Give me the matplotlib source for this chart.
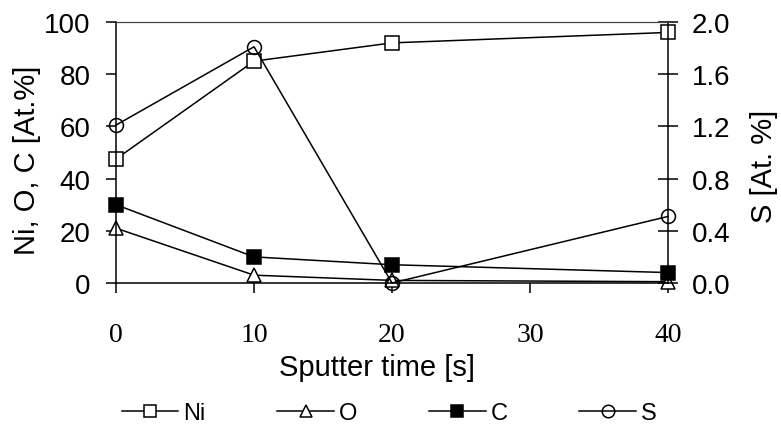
import matplotlib
matplotlib.use('Agg')
import matplotlib.pyplot as plt
from matplotlib.ticker import FormatStrFormatter

plt.rcParams['font.family'] = ['Liberation Sans', 'DejaVu Sans']

# 溅射时间 (s) 与各元素原子百分比
sputter_time = [0, 10, 20, 40]
ni = [47.5, 85, 92, 96]
o = [21, 3, 1, 0.5]
c = [30, 10, 7, 4]
s = [1.21, 1.81, 0.0, 0.51]

x_ticks = [0, 10, 20, 30, 40]
left_ticks = [0, 20, 40, 60, 80, 100]
right_ticks = [0.0, 0.4, 0.8, 1.2, 1.6, 2.0]

fig = plt.figure(figsize=(7.81, 4.27), dpi=100)
ax = fig.add_axes([116 / 781, 1 - 284 / 427, 552 / 781, 261 / 427])
ax2 = ax.twinx()

style = dict(color='black', lw=1.1, ms=10, mew=1.1)
h_ni, = ax.plot(sputter_time, ni, marker='s', mfc='white', label='Ni', **style)
h_o, = ax.plot(sputter_time, o, marker='^', mfc='white', label='O', **style)
h_c, = ax.plot(sputter_time, c, marker='s', mfc='black', label='C', **style)
h_s, = ax2.plot(sputter_time, s, marker='o', mfc='none', label='S', **style)
for h in (h_ni, h_o, h_c, h_s):
    h.set_clip_on(False)

ax.set_xlim(0, 40)
ax.set_ylim(0, 100)
ax2.set_ylim(0, 2.0)

ax.set_xticks(x_ticks)
ax.set_yticks(left_ticks)
ax2.set_yticks(right_ticks)
ax2.yaxis.set_major_formatter(FormatStrFormatter('%.1f'))

ax.tick_params(axis='x', direction='out', length=7.2, width=1.1, pad=21,
               labelsize=20)
for lbl in ax.get_xticklabels():
    lbl.set_family('Liberation Serif')
ax.tick_params(axis='y', direction='out', length=7.2, width=1.1, pad=11,
               labelsize=20)
ax2.tick_params(axis='y', direction='inout', length=14.4, width=1.1, pad=10,
                labelsize=20)

for a in (ax, ax2):
    a.spines['top'].set_linewidth(0.8)
    a.spines['top'].set_color('#444444')
    a.spines['left'].set_linewidth(1.1)
    a.spines['bottom'].set_linewidth(1.1)
    a.spines['right'].set_linewidth(1.1)
ax.spines['right'].set_visible(False)
ax2.spines['left'].set_visible(False)
ax2.spines['bottom'].set_visible(False)

ax.set_xlabel('Sputter time [s]', fontsize=21)
ax.xaxis.set_label_coords(0.473, -0.32)
ax.xaxis.label.set_va('center')
ax.set_ylabel('Ni, O, C [At.%]', fontsize=21)
ax.yaxis.set_label_coords(-0.161, 0.475)
ax.yaxis.label.set_va('center')
ax2.set_ylabel('S [At. %]', fontsize=21, rotation=90)
ax2.yaxis.set_label_coords(1.174, 0.45)
ax2.yaxis.label.set_va('center')

fig.legend(handles=[h_ni, h_o, h_c, h_s], loc='center', ncol=4,
           bbox_to_anchor=(389 / 781, 1 - 414 / 427), frameon=False,
           fontsize=17, handlelength=2.4, handletextpad=0.2,
           columnspacing=3.05, borderpad=0, markerscale=0.9)

fig.savefig('out.png', dpi=100)
